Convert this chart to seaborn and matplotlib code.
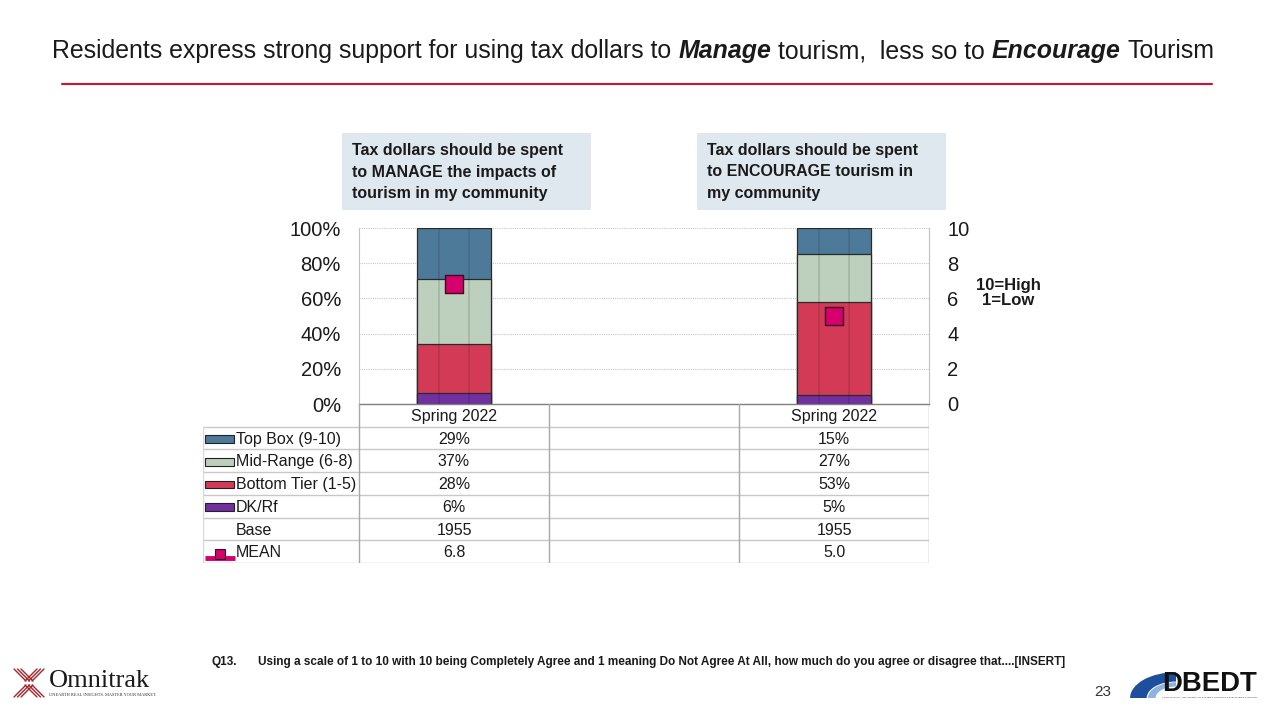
import numpy as np
import pandas as pd
import matplotlib
matplotlib.use('Agg')
import matplotlib.pyplot as plt
import seaborn as sns
from matplotlib.patches import Rectangle, Wedge
from matplotlib.lines import Line2D

# Chart data
groups = ['MANAGE', 'gap', 'ENCOURAGE']
wave_labels = ['Spring 2022', '', 'Spring 2022']
box_texts = ['Tax dollars should be spent\nto MANAGE the impacts of\ntourism in my community',
             'Tax dollars should be spent\nto ENCOURAGE tourism in\nmy community']
top_box = [29, 15]
mid_range = [37, 27]
bottom_tier = [28, 53]
dk_rf = [6, 5]
base_n = [1955, 1955]
mean_score = [6.8, 5.0]

series_names = ['Top Box (9-10)', 'Mid-Range (6-8)', 'Bottom Tier (1-5)', 'DK/Rf']
series_colors = ['#4D7A99', '#BDCFBD', '#D23A55', '#7030A0']
mean_color = '#D6006C'

title_parts = [('Residents express strong support for using tax dollars to', 'normal'),
               ('Manage', 'italic'),
               ('tourism,  less so to', 'normal'),
               ('Encourage', 'italic'),
               ('Tourism', 'normal')]
footnote_q = 'Q13.'
footnote = ('Using a scale of 1 to 10 with 10 being Completely Agree and 1 meaning Do Not Agree '
            'At All, how much do you agree or disagree that....[INSERT]')

df = pd.DataFrame({'group': ['MANAGE', 'ENCOURAGE'], 'top': top_box, 'mid': mid_range,
                   'bottom': bottom_tier, 'dk': dk_rf, 'mean': mean_score, 'base': base_n})

sns.set_style('white')
plt.rcParams['font.family'] = ['Liberation Sans', 'DejaVu Sans']

W, H = 1275, 716
fig = plt.figure(figsize=(W / 100, H / 100), dpi=100)
renderer = fig.canvas.get_renderer()


def fx(x):
    return x / W


def fy(y):
    return 1 - y / H


def text_width(t):
    return t.get_window_extent(renderer).width


# ---- title with mixed styles, centred and sized to the slide's width ----
def layout_title(size):
    texts = []
    for part, style in title_parts:
        texts.append(fig.text(0, fy(58), part, fontsize=size, va='baseline', ha='left',
                              color='#1a1a1a', style=style,
                              weight='bold' if style == 'italic' else 'normal'))
    sp = fig.text(0, 0, 'a a', fontsize=size)
    nsp = fig.text(0, 0, 'aa', fontsize=size)
    space_w = text_width(sp) - text_width(nsp)
    sp.remove()
    nsp.remove()
    widths = [text_width(t) for t in texts]
    return texts, widths, sum(widths) + space_w * (len(widths) - 1), space_w


texts, widths, total, space_w = layout_title(16.5)
for t in texts:
    t.remove()
texts, widths, total, space_w = layout_title(16.5 * 1167 / total)
x = 633.5 - total / 2
for t, w in zip(texts, widths):
    t.set_x(fx(x))
    x += w + space_w

fig.add_artist(Line2D([fx(62), fx(1212)], [fy(84), fy(84)], color='#D0102E', linewidth=1.5))

# ---- bar chart ----
ax = fig.add_axes([fx(359), fy(404), (929 - 359) / W, (404 - 228) / H])
stack_keys = ['dk', 'bottom', 'mid', 'top']
cum = df[stack_keys].cumsum(axis=1)
stack_colors = dict(zip(stack_keys, series_colors[::-1]))
first_patches = None
for key in stack_keys[::-1]:
    sns.barplot(x=df['group'], y=cum[key], order=groups, color=stack_colors[key], width=0.39,
                saturation=1, edgecolor='#2a2a2a', linewidth=0.9, errorbar=None, ax=ax)
    if first_patches is None:
        first_patches = list(ax.patches)

# subtle cylinder lines inside each bar
for p in first_patches:
    if np.isnan(p.get_height()):
        continue
    for f in (0.3, 0.7):
        ax.plot([p.get_x() + p.get_width() * f] * 2, [p.get_y(), p.get_y() + p.get_height()],
                color='black', alpha=0.12, linewidth=1.2, zorder=3)

ax.set_xlim(-0.5, 2.5)
ax.set_ylim(0, 100)
ax.set_yticks(range(0, 101, 20))
ax.set_yticklabels([f'{v}%' for v in range(0, 101, 20)], fontsize=14.5, color='#1a1a1a')
ax.set_xticks([])
ax.set_xlabel('')
ax.set_ylabel('')
ax.tick_params(axis='y', length=0, pad=13)
ax.yaxis.grid(True, linestyle=(0, (1, 1)), color='#C8C8C8', linewidth=0.8)
ax.set_axisbelow(True)
ax.spines['top'].set_visible(False)
for s in ('left', 'right'):
    ax.spines[s].set_color('#C0C0C0')
    ax.spines[s].set_linewidth(0.8)
ax.spines['bottom'].set_color('#808080')
ax.spines['bottom'].set_linewidth(1.0)

ax2 = ax.twinx()
positions = [groups.index(g) for g in df['group']]
sns.scatterplot(x=positions, y=df['mean'], marker='s', s=150, color=mean_color,
                edgecolor='#3a0a1e', linewidth=1.0, ax=ax2, zorder=5)
ax2.set_ylim(0, 10)
ax2.set_yticks(range(0, 11, 2))
ax2.set_yticklabels([str(v) for v in range(0, 11, 2)], fontsize=14.5, color='#1a1a1a')
ax2.tick_params(axis='y', length=0, pad=13)
ax2.set_ylabel('')
ax2.grid(False)
for s in ax2.spines.values():
    s.set_visible(False)
ax2.set_xlim(-0.5, 2.5)

fig.text(fx(1008), fy(293), '10=High\n1=Low', fontsize=12, weight='bold', ha='center',
         va='center', color='#1a1a1a', linespacing=1.0)

# ---- question boxes above the bars ----
for bx, txt in zip([342, 697], box_texts):
    fig.add_artist(Rectangle((fx(bx), fy(210)), 249 / W, 77 / H, transform=fig.transFigure,
                             facecolor='#DFE7EF', edgecolor='none'))
    fig.text(fx(bx + 10), fy(172), txt, fontsize=11.5, weight='bold', ha='left', va='center',
             color='#1a1a1a', linespacing=1.58)

# ---- data table under the chart ----
tab = fig.add_axes([fx(203), fy(563), (929 - 203) / W, (563 - 404) / H])
left_edge = -0.5 - 156 / 190
tab.set_xlim(left_edge, 2.5)
tab.set_ylim(7, 0)
tab.axis('off')

for i, lab in enumerate(wave_labels):
    tab.text(i, 0.55, lab, ha='center', va='center', fontsize=11.5, color='#1a1a1a')

row_labels = series_names + ['Base', 'MEAN']
row_values = [top_box, mid_range, bottom_tier, dk_rf, base_n, mean_score]
for r, (lab, vals) in enumerate(zip(row_labels, row_values), start=1):
    yc = r + 0.55
    tab.text(left_edge + 0.173, yc, lab, ha='left', va='center', fontsize=11.5, color='#1a1a1a')
    for pos, v in zip(positions, vals):
        if lab == 'Base':
            s = f'{v}'
        elif lab == 'MEAN':
            s = f'{v:.1f}'
        else:
            s = f'{v}%'
        tab.text(pos, yc, s, ha='center', va='center', fontsize=11.5, color='#1a1a1a')
    if r <= len(series_names):
        tab.add_patch(Rectangle((left_edge + 0.01, yc - 0.17), 0.153, 0.34,
                                facecolor=series_colors[r - 1], edgecolor='#222222', linewidth=0.8))
    elif lab == 'MEAN':
        tab.plot([left_edge + 0.01, left_edge + 0.17], [yc + 0.25, yc + 0.25], color=mean_color,
                 linewidth=3.5, solid_capstyle='butt')
        tab.plot([left_edge + 0.09], [yc + 0.05], marker='s', markersize=7, color=mean_color,
                 markeredgecolor='#3a0a1e', markeredgewidth=0.8)

for r in range(1, 8):
    tab.plot([left_edge, 2.5], [r, r], color='#C8C8C8', linewidth=1.0)
for xv in (-0.5, 0.5, 1.5, 2.5):
    tab.plot([xv, xv], [0, 7], color='#A8A8A8', linewidth=1.0)
tab.plot([left_edge, left_edge], [1, 7], color='#D8D8D8', linewidth=1.0)

# ---- footnote ----
narrow = ['Liberation Sans Narrow', 'Liberation Sans']
fig.text(fx(211), fy(662), footnote_q, fontsize=8.5, weight='bold', ha='left', va='center',
         family=narrow, color='#1a1a1a')
fn = fig.text(fx(258), fy(662), footnote, fontsize=8.5, weight='bold', ha='left', va='center',
              family=narrow, color='#1a1a1a')
fn.set_fontsize(8.5 * 805 / text_width(fn))

fig.text(fx(1103), fy(692), '23', fontsize=11, ha='center', va='center', color='#333333')

# ---- Omnitrak logo ----
red = '#A8262B'
for k in range(3):
    o = k * 3.5
    fig.add_artist(Line2D([fx(14 + o), fx(26 + o)], [fy(669), fy(681)], color=red, lw=1))
    fig.add_artist(Line2D([fx(14 + o), fx(26 + o)], [fy(697), fy(685)], color=red, lw=1))
    fig.add_artist(Line2D([fx(44 - o), fx(32 - o)], [fy(669), fy(681)], color=red, lw=1))
    fig.add_artist(Line2D([fx(44 - o), fx(32 - o)], [fy(697), fy(685)], color=red, lw=1))
fig.text(fx(49), fy(681), 'Omnitrak', fontsize=19, family='Liberation Serif', ha='left',
         va='center', color='#1a1a1a')
fig.text(fx(49), fy(695), 'UNEARTH REAL INSIGHTS. MASTER YOUR MARKET.', fontsize=3.2,
         family='Liberation Serif', ha='left', va='center', color='#333333')

# ---- DBEDT logo ----
fig.add_artist(Wedge((fx(1176), fy(698)), 0.036, 90, 180, width=0.013, transform=fig.transFigure,
                     facecolor='#1E4F9C', edgecolor='none'))
fig.add_artist(Wedge((fx(1176), fy(698)), 0.022, 90, 180, width=0.006, transform=fig.transFigure,
                     facecolor='#8FB3E0', edgecolor='none'))
db = fig.text(fx(1162), fy(684), 'DBEDT', fontsize=17, weight='bold', ha='left', va='center',
              color='#111111')
db.set_fontsize(17 * 95 / text_width(db))
tiny = fig.text(fx(1162), fy(697),
                'STATE OF HAWAII  DEPARTMENT OF BUSINESS, ECONOMIC DEVELOPMENT & TOURISM',
                fontsize=2, ha='left', va='center', color='#333333')
tiny.set_fontsize(2 * 95 / text_width(tiny))

fig.savefig('out.png', dpi=100, facecolor='white')
